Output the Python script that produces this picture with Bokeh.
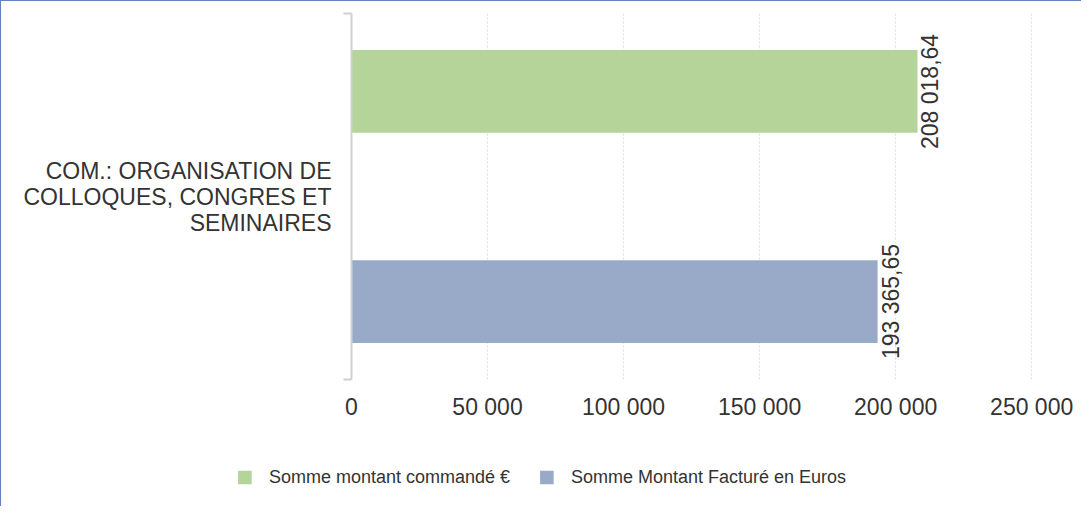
import math
from bokeh.plotting import figure
from bokeh.layouts import column
from bokeh.models import (ColumnDataSource, Range1d, FixedTicker, LinearAxis,
                          Legend, LegendItem)
from bokeh.core.properties import value
from bokeh.embed import file_html
from bokeh.resources import INLINE

# ---- data ----
category = "COM.: ORGANISATION DE\nCOLLOQUES, CONGRES ET\nSEMINAIRES"
series_names = ["Somme montant commandé €", "Somme Montant Facturé en Euros"]
series_values = [208018.64, 193365.65]
value_labels = ["208 018,64", "193 365,65"]
series_colors = ["#b5d49a", "#98aac8"]
tick_values = [0, 50000, 100000, 150000, 200000, 250000]
tick_labels = ["0", "50 000", "100 000", "150 000", "200 000", "250 000"]

# ---- layout ----
W = 1080
H1, H2 = 440, 65
ML, MR, MT = 350, 9, 12
MB = H1 - 378
FONT = "Liberation Sans"
TXT = "#333333"
AX = "#d0d0d0"

p = figure(width=W, height=H1, x_range=Range1d(0, 265000), y_range=Range1d(0, 1),
           output_backend="svg", toolbar_location=None,
           min_border_left=ML, min_border_right=MR, min_border_top=MT,
           min_border_bottom=MB)
p.outline_line_color = None
p.background_fill_color = "white"
p.border_fill_color = "white"
p.frame_align = False

# y axis as bracket (closest to frame)
p.yaxis.ticker = FixedTicker(ticks=[0, 1])
p.yaxis.major_label_overrides = {0: "", 1: ""}
p.yaxis.major_label_standoff = 0
p.yaxis.major_tick_out = 8
p.yaxis.major_tick_in = 0
p.yaxis.major_tick_line_color = AX
p.yaxis.major_tick_line_width = 2
p.yaxis.axis_line_color = AX
p.yaxis.axis_line_width = 2
p.yaxis.minor_tick_line_color = None
p.ygrid.visible = False

# category axis (label only)
cat_axis = LinearAxis(ticker=FixedTicker(ticks=[0.5]),
                      major_label_overrides={0.5: category},
                      axis_line_color=None, major_tick_line_color=None,
                      minor_tick_line_color=None, major_tick_in=0,
                      major_tick_out=0, major_label_standoff=12,
                      major_label_text_font=FONT,
                      major_label_text_font_size="23px",
                      major_label_text_color=TXT,
                      major_label_text_line_height=1.0)
p.add_layout(cat_axis, "left")

# x axis
p.xaxis.ticker = FixedTicker(ticks=tick_values)
p.xaxis.major_label_overrides = dict(zip(tick_values, tick_labels))
p.xaxis.axis_line_color = None
p.xaxis.major_tick_line_color = None
p.xaxis.major_tick_out = 0
p.xaxis.major_tick_in = 0
p.xaxis.minor_tick_line_color = None
p.xaxis.major_label_standoff = 14
p.xaxis.major_label_text_font = FONT
p.xaxis.major_label_text_font_size = "23px"
p.xaxis.major_label_text_color = TXT
p.xgrid.ticker = FixedTicker(ticks=tick_values)
p.xgrid.grid_line_color = "#dcdcdc"
p.xgrid.grid_line_dash = "2 2"
p.xgrid.grid_line_width = 1

# bars
offset = 0.287
bar_h = 0.226
centers = [0.5 + offset, 0.5 - offset]
for i in range(len(series_values)):
    src = ColumnDataSource(dict(y=[centers[i]], right=[series_values[i]],
                                label=[value_labels[i]]))
    p.hbar(y="y", left=0, right="right", height=bar_h, source=src,
           fill_color=series_colors[i], line_color=None)
    p.text(x="right", y="y", text="label", source=src, angle=math.pi / 2,
           x_offset=13, text_align="center", text_baseline="middle",
           text_font=value(FONT), text_font_size="23px", text_color=TXT)

# ---- legend figure ----
q = figure(width=W, height=H2, x_range=Range1d(0, 1), y_range=Range1d(0, 1),
           output_backend="svg", toolbar_location=None,
           min_border_left=0, min_border_right=0, min_border_top=7,
           min_border_bottom=0)
q.frame_align = False
q.axis.visible = False
q.grid.visible = False
q.outline_line_color = None
q.border_fill_color = "white"
leg_renderers = []
for i in range(len(series_names)):
    # proxy glyphs for the legend (their bars lie outside this strip's range)
    leg_renderers.append(q.hbar(y=[centers[i]], left=[series_values[i]],
                                right=[series_values[i]], height=bar_h,
                                fill_color=series_colors[i], line_color=None))
legend = Legend(items=[LegendItem(label=series_names[i], renderers=[leg_renderers[i]])
                       for i in range(len(series_names))],
                orientation="horizontal", location="center",
                border_line_color=None, background_fill_alpha=0,
                label_text_font=FONT, label_text_font_size="18px",
                label_text_color=TXT, glyph_width=17, glyph_height=17,
                label_standoff=16, spacing=28, margin=0, padding=5)
q.add_layout(legend, "center")

layout = column(p, q, spacing=0,
                styles={"border-top": "1px solid #6383bf",
                        "border-left": "1px solid #6383bf"})

open("out.html", "w").write(file_html(layout, INLINE))
